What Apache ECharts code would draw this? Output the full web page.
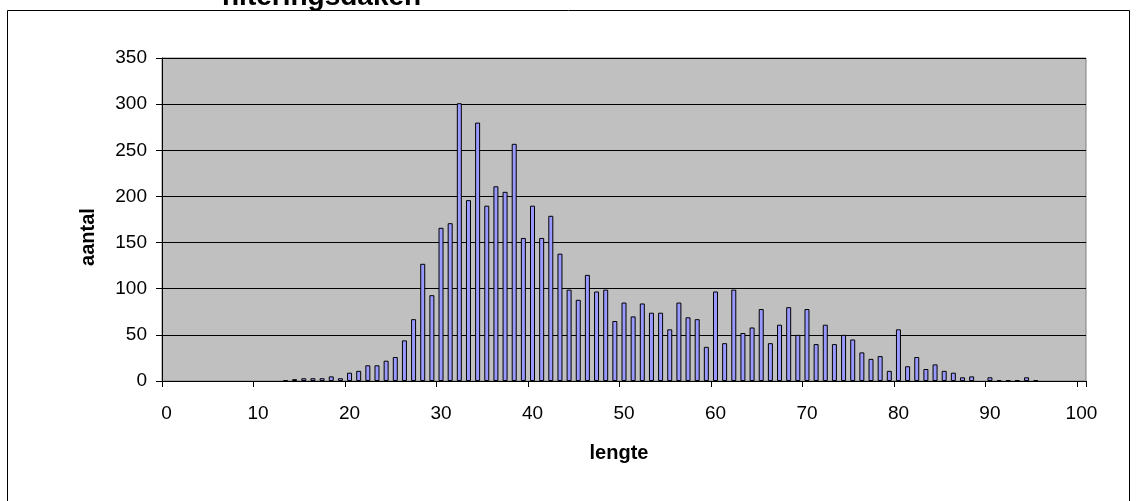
<!DOCTYPE html>
<html>
<head>
<meta charset="utf-8">
<script src="https://cdn.jsdelivr.net/npm/echarts@6/dist/echarts.min.js"></script>
<style>
html,body{margin:0;padding:0;background:#fff;}
#c{width:1138px;height:501px;}
</style>
</head>
<body>
<div id="c"></div>
<script>
// categories: lengte 0..100
const categories = [];
for (let i = 0; i <= 100; i++) categories.push(String(i));

// aantal per lengte (lengths without a bar are left empty)
const lengths = [13,14,15,16,17,18,19,20,21,22,23,24,25,26,27,28,29,30,31,32,33,34,35,36,37,38,39,40,41,42,43,44,45,46,47,48,49,50,51,52,53,54,55,56,57,58,59,60,61,62,63,64,65,66,67,68,69,70,71,72,73,74,75,76,77,78,79,80,81,82,83,84,85,86,87,88,90,91,92,93,94,95];
const counts  = [1,2,3,3,3,5,3,9,11,17,17,22,26,44,67,127,93,166,171,301,196,280,190,211,205,257,155,190,155,179,138,99,88,115,97,99,65,85,70,84,74,74,56,85,69,67,37,97,41,99,52,58,78,41,61,80,50,78,40,61,40,50,45,31,24,27,11,56,16,26,13,18,11,9,4,5,4,1,1,1,4,1];

const yTicks = { min: 0, max: 350, interval: 50 };
const titleText = 'hiteringsdaken';
const xName = 'lengte';
const yName = 'aantal';

const values = categories.map(c => {
  const k = lengths.indexOf(Number(c));
  return k >= 0 ? counts[k] : null;
});

const chart = echarts.init(document.getElementById('c'), null, { renderer: 'canvas' });
const FONT = '"Liberation Sans", Arial, sans-serif';
chart.setOption({
  animation: false,
  backgroundColor: '#fff',
  grid: { left: 162, right: 52, top: 58, bottom: 120, show: true, backgroundColor: '#C0C0C0', borderColor: '#808080', borderWidth: 1 },
  graphic: [
    { type: 'rect', shape: { x: 7.5, y: 10.5, width: 1122, height: 520 }, style: { fill: null, stroke: '#000', lineWidth: 1 }, silent: true, z: -1 },
    { type: 'text', left: 222, top: -17, style: { text: titleText, font: 'bold 28px ' + FONT, fill: '#000' }, z: 10 },
    { type: 'text', x: 619, y: 453, style: { text: xName, font: 'bold 20px ' + FONT, fill: '#000', align: 'center', verticalAlign: 'middle' }, z: 10 },
    { type: 'text', x: 88, y: 237, rotation: Math.PI / 2, style: { text: yName, font: 'bold 20px ' + FONT, fill: '#000', align: 'center', verticalAlign: 'middle' }, z: 10 }
  ],
  xAxis: {
    type: 'category',
    data: categories,
    boundaryGap: true,
    axisLine: { lineStyle: { color: '#000', width: 1 } },
    axisTick: { show: true, interval: 9, length: 6, lineStyle: { color: '#000' } },
    axisLabel: { interval: 9, fontFamily: FONT, fontSize: 19, color: '#000', margin: 23 },
    splitLine: { show: false }
  },
  yAxis: {
    type: 'value',
    min: yTicks.min, max: yTicks.max, interval: yTicks.interval,
    axisLine: { show: true, lineStyle: { color: '#000', width: 1 } },
    axisTick: { show: true, length: 6, lineStyle: { color: '#000' } },
    axisLabel: { fontFamily: FONT, fontSize: 19, color: '#000', margin: 15 },
    splitLine: { show: true, lineStyle: { color: '#000', width: 1 } }
  },
  series: [{
    type: 'bar',
    data: values,
    barWidth: 5,
    itemStyle: { color: '#9999FF', borderColor: '#000', borderWidth: 1 }
  }]
});
</script>
</body>
</html>
